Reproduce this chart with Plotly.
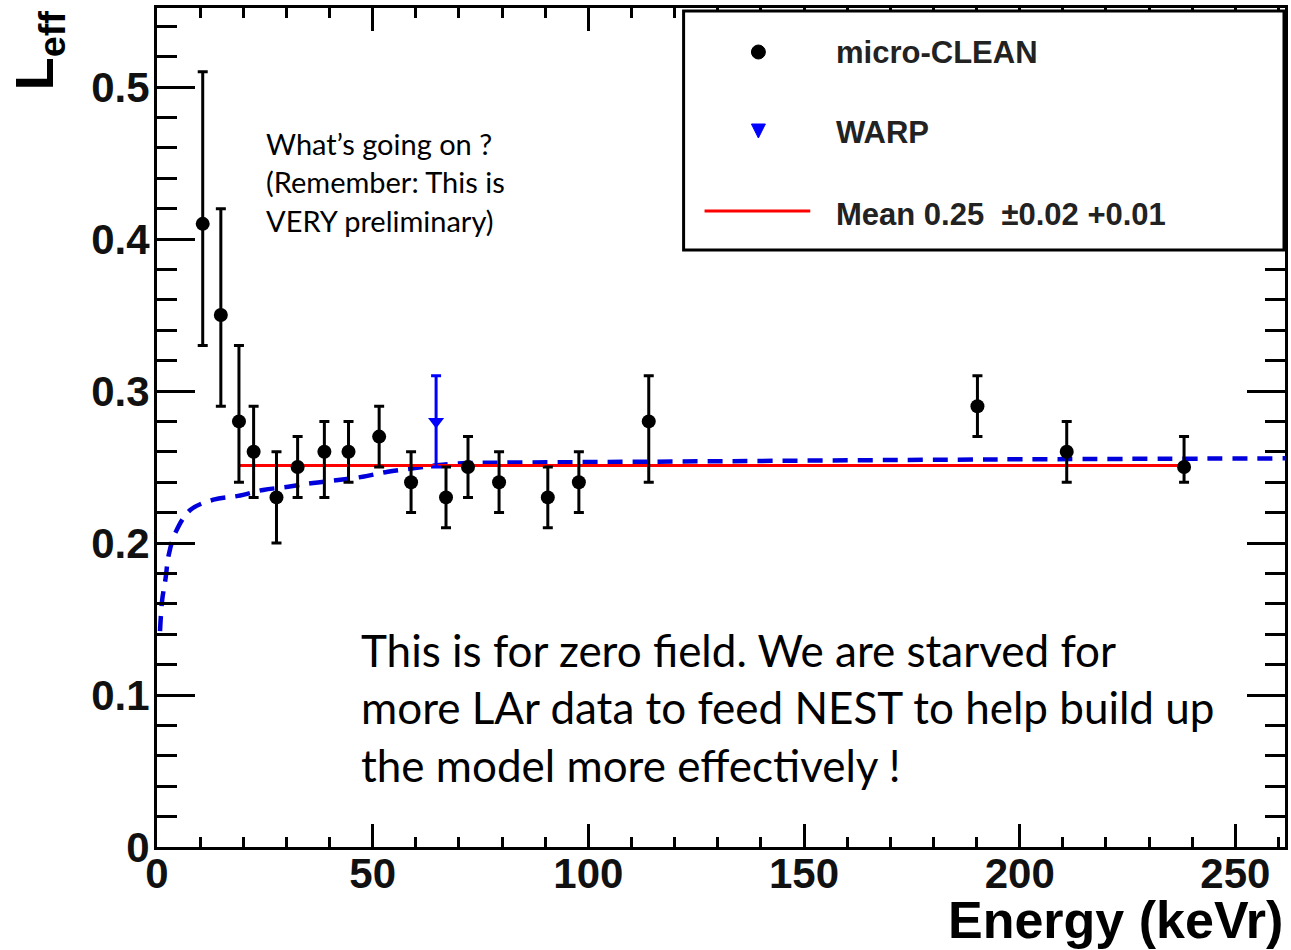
import plotly.graph_objects as go

# ---------------- data ----------------
clean_energy = [10.6, 14.8, 19.0, 22.4, 27.7, 32.6, 38.8, 44.4, 51.5, 58.9,
                67.0, 72.1, 79.3, 90.6, 97.8, 114.0, 190.2, 210.9, 238.1]
clean_leff = [0.41, 0.35, 0.28, 0.26, 0.23, 0.25, 0.26, 0.26, 0.27, 0.24,
              0.23, 0.25, 0.24, 0.23, 0.24, 0.28, 0.29, 0.26, 0.25]
clean_err_up = [0.10, 0.07, 0.05, 0.03, 0.03, 0.02, 0.02, 0.02, 0.02, 0.02,
                0.02, 0.02, 0.02, 0.02, 0.02, 0.03, 0.02, 0.02, 0.02]
clean_err_dn = [0.08, 0.06, 0.04, 0.03, 0.03, 0.02, 0.03, 0.02, 0.02, 0.02,
                0.02, 0.02, 0.02, 0.02, 0.02, 0.04, 0.02, 0.02, 0.01]

warp_energy = [64.7]
warp_leff = [0.28]
warp_err_up = [0.03]
warp_err_dn = [0.03]

nest_energy = [0.7, 1.2, 2.0, 2.7, 4.3, 7.7, 13.1, 18.8, 24.6, 30.4, 36.2, 42.0,
               47.7, 53.5, 59.8, 65.5, 71.8, 77.1, 114.0, 195.0, 261.5]
nest_leff = [0.142, 0.1625, 0.177, 0.192, 0.207, 0.2217, 0.2285, 0.231, 0.2349,
             0.237, 0.2395, 0.2414, 0.2436, 0.2469, 0.2493, 0.2513, 0.2526,
             0.2528, 0.2535, 0.255, 0.2557]

mean_energy = [19.0, 238.1]
mean_leff = [0.251, 0.251]

x_ticks = [0, 50, 100, 150, 200, 250]
y_ticks = [0, 0.1, 0.2, 0.3, 0.4, 0.5]
y_tick_labels = ["0", "0.1", "0.2", "0.3", "0.4", "0.5"]

legend_labels = ["micro-CLEAN", "WARP", "Mean 0.25 \u00a0\u00b10.02 +0.01"]
note_small = ["What\u2019s going on ?", "(Remember: This is", "VERY preliminary)"]
note_big = ["This is for zero field. We are starved for",
            "more LAr data to feed NEST to help build up",
            "the model more effectively !"]

# ---------------- layout helpers ----------------
W, H = 1291, 950
L, R, T, B = 157, 1288, 8, 847


def px(xp):
    return (xp - L) / (R - L)


def py(yp):
    return (B - yp) / (B - T)


fig = go.Figure()

fig.add_trace(go.Scatter(
    x=nest_energy, y=nest_leff, mode="lines", name="NEST",
    line=dict(color="#0000dd", width=4.5, dash="15px,10px", shape="spline"),
    showlegend=False, hoverinfo="skip"))

fig.add_trace(go.Scatter(
    x=mean_energy, y=mean_leff, mode="lines", name=legend_labels[2],
    line=dict(color="#ff0000", width=3), showlegend=False))

fig.add_trace(go.Scatter(
    x=warp_energy, y=warp_leff, mode="markers", name="WARP",
    marker=dict(symbol="triangle-down", size=14, color="#0000ff"),
    error_y=dict(type="data", symmetric=False, array=warp_err_up,
                 arrayminus=warp_err_dn, color="#0000ff", thickness=3, width=5),
    showlegend=False))

fig.add_trace(go.Scatter(
    x=clean_energy, y=clean_leff, mode="markers", name="micro-CLEAN",
    marker=dict(symbol="circle", size=14, color="black"),
    error_y=dict(type="data", symmetric=False, array=clean_err_up,
                 arrayminus=clean_err_dn, color="black", thickness=3, width=5),
    showlegend=False))

tickfont = dict(family="Liberation Sans, Arial, sans-serif", size=42,
                color="#111111", weight="bold")

fig.update_xaxes(
    range=[0, 261.5], tickvals=x_ticks, ticktext=[str(v) for v in x_ticks],
    ticks="inside", ticklen=23, tickwidth=3, tickcolor="black",
    minor=dict(dtick=10, tick0=0, ticks="inside", ticklen=10, tickwidth=2.5,
               tickcolor="black"),
    showline=True, linecolor="black", linewidth=3, mirror="ticks",
    showgrid=False, zeroline=False, tickfont=tickfont, ticklabelstandoff=-12)

fig.update_yaxes(
    range=[0, 0.552], tickvals=y_ticks, ticktext=y_tick_labels,
    ticks="inside", ticklen=38, tickwidth=3, tickcolor="black",
    minor=dict(dtick=0.02, tick0=0, ticks="inside", ticklen=20, tickwidth=3,
               tickcolor="black"),
    showline=True, linecolor="black", linewidth=3, mirror="ticks",
    showgrid=False, zeroline=False, tickfont=tickfont, ticklabelstandoff=-4)

shapes = []
annotations = []

# legend box
shapes.append(dict(type="rect", xref="paper", yref="paper",
                   x0=px(685), x1=px(1287), y0=py(250), y1=py(11),
                   line=dict(color="black", width=3), fillcolor="white",
                   layer="above"))
# dot symbol
shapes.append(dict(type="circle", xref="paper", yref="paper",
                   x0=px(753), x1=px(767), y0=py(59), y1=py(45),
                   line=dict(color="black", width=1), fillcolor="black",
                   layer="above"))
# triangle symbol
shapes.append(dict(type="path", xref="paper", yref="paper",
                   path=f"M {px(753)} {py(124)} L {px(767)} {py(124)} L {px(760)} {py(138)} Z",
                   line=dict(color="#0000ff", width=1), fillcolor="#0000ff",
                   layer="above"))
# red line symbol
shapes.append(dict(type="line", xref="paper", yref="paper",
                   x0=px(706), x1=px(812), y0=py(211), y1=py(211),
                   line=dict(color="#ff0000", width=3), layer="above"))

legend_font = dict(family="Liberation Sans, Arial, sans-serif", size=31,
                   color="#222222", weight="bold")
for lab, yc in zip(legend_labels, [53, 132, 214]):
    annotations.append(dict(text=lab, xref="paper", yref="paper",
                            x=px(836), y=py(yc), xanchor="left", yanchor="middle",
                            showarrow=False, font=legend_font))

note_font_s = dict(family="Lato, Noto Sans, sans-serif", size=29, color="black")
for t, yc in zip(note_small, [143, 182, 220]):
    annotations.append(dict(text=t, xref="paper", yref="paper",
                            x=px(264), y=py(yc), xanchor="left", yanchor="middle",
                            showarrow=False, font=note_font_s))

note_font_b = dict(family="Lato, Noto Sans, sans-serif", size=44, color="black")
for t, yc in zip(note_big, [650, 707, 765]):
    annotations.append(dict(text=t, xref="paper", yref="paper",
                            x=px(360), y=py(yc), xanchor="left", yanchor="middle",
                            showarrow=False, font=note_font_b))

# axis titles
annotations.append(dict(text="Energy (keVr)", xref="paper", yref="paper",
                        x=px(1288), y=py(920), xanchor="right", yanchor="middle",
                        showarrow=False,
                        font=dict(family="Liberation Sans, Arial, sans-serif",
                                  size=52, color="black", weight="bold")))
annotations.append(dict(text="L<sub>eff</sub>", xref="paper", yref="paper",
                        x=px(38), y=py(8), xanchor="center", yanchor="top",
                        textangle=-90, showarrow=False,
                        font=dict(family="Liberation Sans, Arial, sans-serif",
                                  size=54, color="black", weight="bold")))

fig.update_layout(
    width=W, height=H,
    margin=dict(l=L, r=W - R, t=T, b=H - B, pad=0),
    paper_bgcolor="white", plot_bgcolor="white",
    shapes=shapes, annotations=annotations, showlegend=False)

fig.write_html("out.html")
